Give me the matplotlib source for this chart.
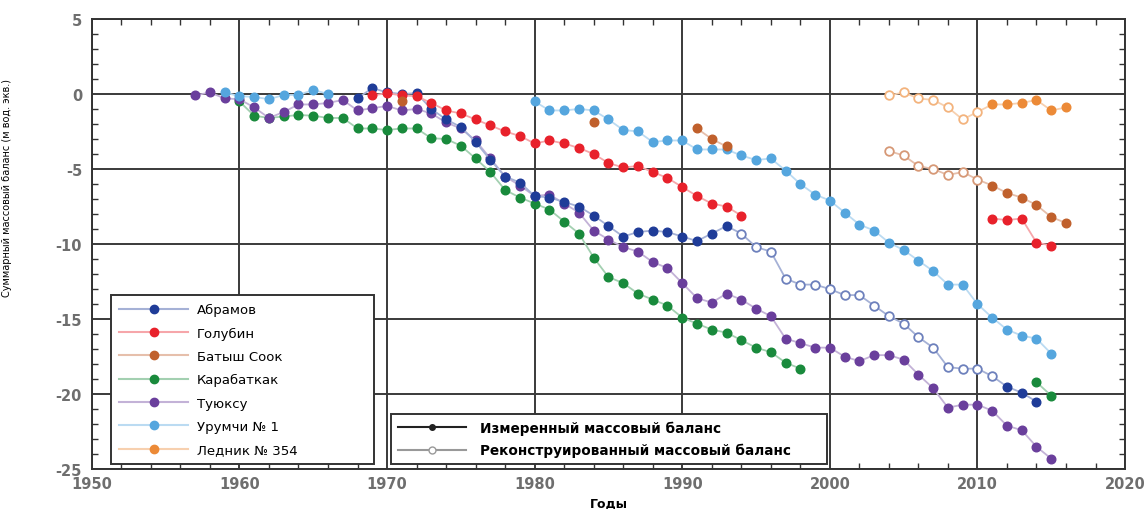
import matplotlib
matplotlib.use("Agg")
import matplotlib.pyplot as plt
import numpy as np
from matplotlib.lines import Line2D
from matplotlib.ticker import MultipleLocator
from matplotlib.colors import to_rgb

plt.rcParams["font.family"] = ["DejaVu Sans"]
plt.rcParams["axes.unicode_minus"] = False

# --- data (cumulative mass balance, m w.e.) ---
ABRAMOV_START = 1968
ABRAMOV_MEAS = [
    -0.3, 0.4, 0.1, 0.0, 0.05, -1.0, -1.7, -2.2, -3.2, -4.4,
    -5.5, -5.9, -6.8, -6.9, -7.2, -7.5, -8.1, -8.8, -9.5, -9.2,
    -9.1, -9.2, -9.5, -9.8, -9.3, -8.8,
    None, None, None, None, None, None, None, None, None, None,
    None, None, None, None, None, None, None, None,
    -19.5, -19.9, -20.5,
]
ABRAMOV_REC_START = 1994
ABRAMOV_REC = [
    -9.3, -10.2, -10.5, -12.3, -12.7, -12.7, -13.0, -13.4, -13.4, -14.1,
    -14.8, -15.3, -16.2, -16.9, -18.2, -18.3, -18.3, -18.8,
]

GOLUBIN_START = 1969
GOLUBIN_MEAS = [
    -0.1, 0.05, -0.1, -0.15, -0.6, -1.1, -1.3, -1.7, -2.1, -2.5,
    -2.8, -3.3, -3.1, -3.3, -3.6, -4.0, -4.6, -4.9, -4.8, -5.2,
    -5.6, -6.2, -6.8, -7.3, -7.5, -8.1,
    None, None, None, None, None, None, None, None, None, None,
    None, None, None, None, None, None,
    -8.3, -8.4, -8.3, -9.9, -10.1,
]

BATYSH_START = 1971
BATYSH_MEAS = [
    -0.45, None, None, None, None, None, None, None, None, None,
    None, None, None, -1.9, None, None, None, None, None, None,
    -2.3, -3.0, -3.5, None, None, None, None, None, None, None,
    None, None, None, None, None, None, None, None, None, None,
    -6.1, -6.6, -6.9, -7.4, -8.2, -8.6,
]
BATYSH_REC_START = 2004
BATYSH_REC = [-3.8, -4.1, -4.8, -5.0, -5.4, -5.2, -5.7]

KARABATKAK_START = 1960
KARABATKAK_MEAS = [
    -0.5, -1.45, -1.6, -1.5, -1.4, -1.45, -1.6, -1.6, -2.3, -2.3,
    -2.4, -2.3, -2.3, -2.95, -3.0, -3.45, -4.3, -5.2, -6.4, -6.9,
    -7.3, -7.7, -8.5, -9.3, -10.9, -12.2, -12.6, -13.3, -13.7, -14.1,
    -14.9, -15.3, -15.7, -15.9, -16.4, -16.9, -17.2, -17.9, -18.3,
    None, None, None, None, None, None, None, None, None, None,
    None, None, None, None, None,
    -19.2, -20.1,
]

TUYUKSU_START = 1957
TUYUKSU_MEAS = [
    -0.1, 0.1, -0.3, -0.35, -0.9, -1.6, -1.2, -0.7, -0.7, -0.6,
    -0.4, -1.1, -0.95, -0.8, -1.1, -1.0, -1.3, -1.9, -2.3, -3.1,
    -4.3, -5.5, -6.1, -6.8, -6.7, -7.3, -7.9, -9.1, -9.7, -10.2,
    -10.5, -11.2, -11.6, -12.6, -13.6, -13.9, -13.3, -13.7, -14.3, -14.8,
    -16.3, -16.6, -16.9, -16.9, -17.5, -17.8, -17.4, -17.4, -17.7, -18.7,
    -19.6, -20.9, -20.7, -20.7, -21.1, -22.1, -22.4, -23.5, -24.3,
]

URUMQI_START = 1959
URUMQI_MEAS = [
    0.1, -0.15, -0.2, -0.35, -0.07, -0.07, 0.27, 0.0,
    None, None, None, None, None, None, None, None, None, None,
    None, None, None,
    -0.5, -1.1, -1.1, -1.0, -1.1, -1.7, -2.4, -2.5, -3.2, -3.1,
    -3.1, -3.7, -3.7, -3.7, -4.1, -4.4, -4.3, -5.1, -6.0, -6.7,
    -7.1, -7.9, -8.7, -9.1, -9.9, -10.4, -11.1, -11.8, -12.7, -12.7,
    -14.0, -14.9, -15.7, -16.1, -16.3, -17.3,
]

G354_START = 2011
G354_MEAS = [-0.7, -0.7, -0.6, -0.4, -1.1, -0.9]
G354_REC_START = 2004
G354_REC = [-0.1, 0.1, -0.3, -0.4, -0.9, -1.7, -1.2]

NAMES = ["Абрамов", "Голубин", "Батыш Соок", "Карабаткак",
         "Туюксу", "Урумчи № 1", "Ледник № 354"]
COLORS = ["#1f3c98", "#e8212b", "#c0602c", "#198a3c",
          "#6a3f9c", "#55a6de", "#ec8a37"]


def tint(color, amount):
    rgb = np.array(to_rgb(color))
    return tuple(rgb * (1 - amount) + amount)


def to_series(start, values):
    years = np.arange(start, start + len(values))
    vals = np.array([np.nan if v is None else v for v in values], dtype=float)
    return years, vals


def draw_glacier(ax, meas_start, meas, color, rec_start=None, rec=None, z=3):
    my, mv = to_series(meas_start, meas)
    line_color = tint(color, 0.6)
    years, vals = my, mv
    if rec is not None:
        ry, rv = to_series(rec_start, rec)
        lo = min(my[0], ry[0])
        hi = max(my[-1], ry[-1])
        years = np.arange(lo, hi + 1)
        vals = np.full(len(years), np.nan)
        vals[my - lo] = mv
        vals[ry - lo] = rv
    ax.plot(years, vals, color=line_color, lw=1.3, zorder=z)
    ax.plot(my, mv, "o", ls="none", color=color, ms=6.2, mec=color, zorder=z + 0.5)
    if rec is not None:
        ax.plot(ry, rv, "o", ls="none", mfc="white", mec=tint(color, 0.35),
                mew=1.3, ms=6.2, zorder=z + 0.5)


fig = plt.figure(figsize=(11.48, 5.10), dpi=100)
ax = fig.add_axes([0.080, 0.078, 0.900, 0.883])

draw_glacier(ax, KARABATKAK_START, KARABATKAK_MEAS, COLORS[3], z=3)
draw_glacier(ax, TUYUKSU_START, TUYUKSU_MEAS, COLORS[4], z=4)
draw_glacier(ax, ABRAMOV_START, ABRAMOV_MEAS, COLORS[0],
             ABRAMOV_REC_START, ABRAMOV_REC, z=5)
draw_glacier(ax, GOLUBIN_START, GOLUBIN_MEAS, COLORS[1], z=6)
draw_glacier(ax, URUMQI_START, URUMQI_MEAS, COLORS[5], z=6)
draw_glacier(ax, BATYSH_START, BATYSH_MEAS, COLORS[2],
             BATYSH_REC_START, BATYSH_REC, z=7)
draw_glacier(ax, G354_START, G354_MEAS, COLORS[6],
             G354_REC_START, G354_REC, z=7)

ax.set_xlim(1950, 2020)
ax.set_ylim(-25, 5)
ax.xaxis.set_major_locator(MultipleLocator(10))
ax.xaxis.set_minor_locator(MultipleLocator(2))
ax.yaxis.set_major_locator(MultipleLocator(5))
ax.yaxis.set_minor_locator(MultipleLocator(1))
ax.grid(True, which="major", color="#3a3a3a", lw=1.4, zorder=1)
ax.tick_params(which="both", direction="in", top=True, right=True,
               colors="#333333", labelcolor="#6e6e6e")
ax.tick_params(which="major", length=0, labelsize=10.5)
ax.tick_params(axis="x", which="major", pad=5)
ax.tick_params(axis="y", which="major", pad=7)
ax.tick_params(which="minor", length=4, width=1)
for lab in ax.get_xticklabels() + ax.get_yticklabels():
    lab.set_fontweight("bold")
for sp in ax.spines.values():
    sp.set_color("#333333")
    sp.set_linewidth(1.4)

ax.set_ylabel("Суммарный массовый баланс (м вод. экв.)", fontsize=7)
ax.yaxis.set_label_coords(-0.077, 0.627)
ax.set_xlabel("Годы", fontsize=9, fontweight="bold", labelpad=4)

handles = [
    Line2D([], [], color=tint(c, 0.6), lw=1.5, marker="o", ms=6,
           mfc=c, mec=c) for c in COLORS
]
leg1 = ax.legend(handles, NAMES, loc="lower left",
                 bbox_to_anchor=(0.019, 0.011, 0.254, 0.37), mode="expand",
                 fontsize=9.5, frameon=True, fancybox=False, framealpha=1,
                 edgecolor="#333333", handlelength=5.2, labelspacing=0.78,
                 borderaxespad=0, borderpad=0.6, handletextpad=0.7)
leg1.get_frame().set_linewidth(1.4)
leg1.set_zorder(10)
ax.add_artist(leg1)

type_handles = [
    Line2D([], [], color="#222222", lw=1.5, marker="o", ms=4, mfc="#222222"),
    Line2D([], [], color="#999999", lw=1.5, marker="o", ms=5, mfc="white",
           mec="#999999"),
]
leg2 = ax.legend(type_handles,
                 ["Измеренный массовый баланс", "Реконструированный массовый баланс"],
                 loc="lower left", bbox_to_anchor=(0.290, 0.011, 0.422, 0.127),
                 mode="expand", frameon=True, fancybox=False,
                 framealpha=1, edgecolor="#333333", handlelength=5.0,
                 labelspacing=0.6, borderaxespad=0, borderpad=0.5,
                 handletextpad=1.0, prop={"weight": "bold", "size": 9.8})
leg2.get_frame().set_linewidth(1.4)
leg2.set_zorder(10)

fig.savefig("out.png", dpi=100)
